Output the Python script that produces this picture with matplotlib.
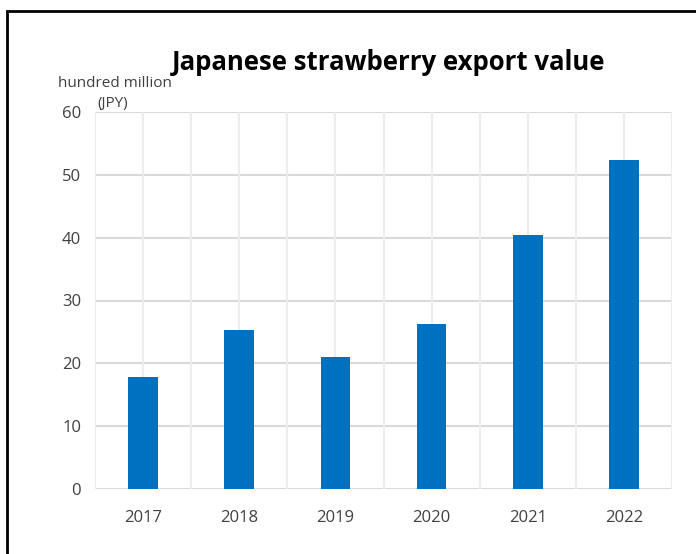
import matplotlib
matplotlib.use("Agg")
import matplotlib.pyplot as plt
from matplotlib.patches import Rectangle

years = ["2017", "2018", "2019", "2020", "2021", "2022"]
values = [17.8, 25.3, 21.0, 26.3, 40.5, 52.4]
yticks = [0, 10, 20, 30, 40, 50, 60]

W, H = 696, 554
fig = plt.figure(figsize=(W / 100, H / 100), dpi=100)
fig.patch.set_facecolor("white")
plt.rcParams["font.family"] = ["Open Sans", "DejaVu Sans"]

ax = fig.add_axes([95 / W, 1 - 489 / H, (672 - 95) / W, (489 - 112) / H])
x = list(range(len(years)))
ax.bar(x, values, width=0.31, color="#0070C0", zorder=3)
ax.set_xlim(-0.5, len(years) - 0.5)
ax.set_ylim(0, 60)
ax.set_yticks(yticks)
ax.set_xticks(x)
ax.set_xticklabels(years)
for s in ax.spines.values():
    s.set_visible(False)
grid_c = "#d9d9d9"
for t in yticks:
    ax.axhline(t, color=grid_c, lw=1.5, zorder=1)
for i in range(2 * len(years) + 1):
    ax.axvline(-0.5 + 0.5 * i, color="#ececec", lw=1.5, zorder=1)
ax.tick_params(axis="both", length=0, labelsize=12, colors="#404040", pad=10)
ax.tick_params(axis="x", pad=15)

fig.text(389 / W, 1 - 62 / H, "Japanese strawberry export value", ha="center", va="center",
         fontsize=18.5, fontweight="bold", color="#000000")
fig.text(58 / W, 1 - 84 / H, "hundred million", ha="left", va="center", fontsize=11, color="#404040")
fig.text(97 / W, 1 - 103 / H, "(JPY)", ha="left", va="center", fontsize=11, color="#404040")

fig.add_artist(Rectangle((7 / W, -0.05), 1.1, 1 - 11 / H + 0.05, transform=fig.transFigure,
                         fill=False, edgecolor="black", lw=2.0))

fig.savefig("out.png", dpi=100)
